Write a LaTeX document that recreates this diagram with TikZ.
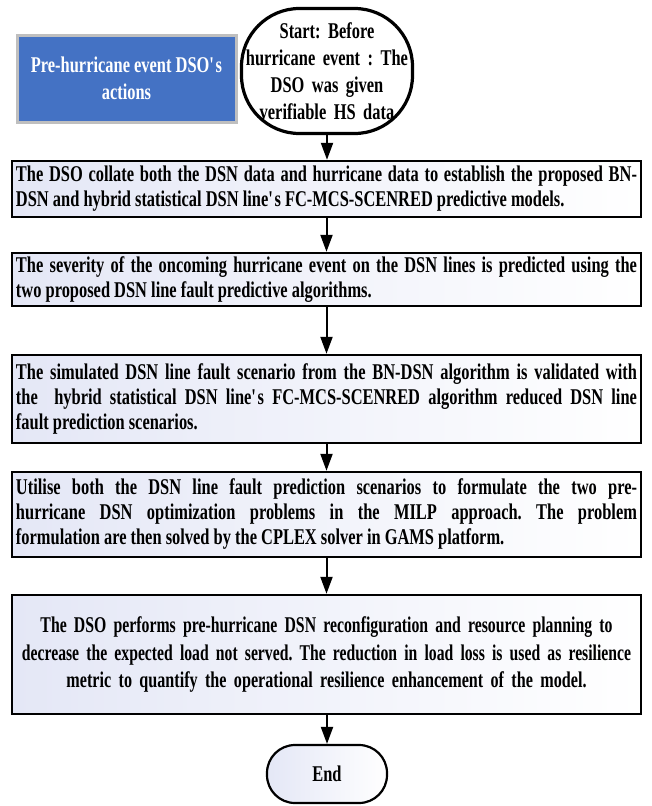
\documentclass[tikz,border=0pt]{standalone}
\usepackage{fontspec}
\setmainfont{Liberation Serif}[FakeStretch=0.73]
\usetikzlibrary{arrows.meta}
\frenchspacing

\definecolor{boxtint}{RGB}{228,231,246}
\definecolor{titleblue}{RGB}{68,114,196}
\definecolor{titleedge}{RGB}{191,191,191}

\newcommand{\apos}{\textquotesingle}
% a single line of text set to a given width
\newcommand{\fitline}[2]{\resizebox{#1}{\height}{#2}}

\tikzset{
  stepbox/.style={draw, line width=2.4pt, text width=621pt, inner xsep=4pt, inner ysep=3pt,
    align=justify, font=\fontsize{22.5}{25}\selectfont\bfseries,
    left color=boxtint, right color=white},
  terminal/.style={draw, align=center, font=\fontsize{22.5}{27}\selectfont\bfseries},
  flowarrow/.style={-{Triangle[length=17pt,width=12pt]}, line width=2pt},
}

\begin{document}
\begin{tikzpicture}[x=1pt,y=-1pt]
\useasboundingbox (0,0) rectangle (651,806);

% side title
\node[fill=titleblue, draw=titleedge, line width=3pt, minimum width=219pt, minimum height=87pt,
  text=white, align=center, font=\fontsize{22.5}{27}\selectfont\bfseries] (title) at (126.5,78.5)
  {Pre-hurricane event DSO\apos s\\actions};

% start and end terminals
\node[terminal, line width=3.2pt, rounded corners=58pt, minimum width=171pt, minimum height=125pt,
  text width=185pt, inner xsep=-7pt, fill=white] (start) at (327,71)
  {Start: Before\\hurricane event : The\\DSO was given\\verifiable HS data};

% process steps
\node[stepbox, minimum height=56pt] (s1) at (326.5,189)
  {The DSO collate both the DSN data and hurricane data to establish the proposed BN-\linebreak DSN and hybrid statistical DSN line\apos s FC-MCS-SCENRED predictive models.};

\node[stepbox, minimum height=53pt] (s2) at (326.5,279.5)
  {The severity of the oncoming hurricane event on the DSN lines is predicted using the\linebreak two proposed DSN line fault predictive algorithms.};

\node[stepbox, minimum height=88pt] (s3) at (326.5,399)
  {The simulated DSN line fault scenario from the BN-DSN algorithm is validated with\linebreak the \ hybrid statistical DSN line\apos s FC-MCS-SCENRED algorithm reduced DSN line\linebreak fault prediction scenarios.};

\node[stepbox, minimum height=85pt] (s4) at (326.5,514.5)
  {Utilise both the DSN line fault prediction scenarios to formulate the two pre-\linebreak hurricane DSN optimization problems in the MILP approach. The problem\linebreak formulation are then solved by the CPLEX solver in GAMS platform.};

\node[stepbox, minimum height=119pt, align=center, font=\fontsize{22.5}{27.5}\selectfont\bfseries] (s5) at (326.5,654.5)
  {\fitline{572pt}{The DSO performs pre-hurricane DSN reconfiguration and resource planning to}\\
   \fitline{609pt}{decrease the expected load not served. The reduction in load loss is used as resilience}\\
   \fitline{520pt}{metric to quantify the operational resilience enhancement of the model.}};

\node[terminal, line width=2.2pt, rounded corners=28pt, minimum width=120pt, minimum height=58pt,
  left color=boxtint, right color=white] (finish) at (327,774) {End};

% connectors
\draw[flowarrow] (start.south) -- (start.south |- s1.north);
\draw[flowarrow] (s1) -- (s2);
\draw[flowarrow] (s2) -- (s3);
\draw[flowarrow] (s3) -- (s4);
\draw[flowarrow] (s4) -- (s5);
\draw[flowarrow] (s5.south -| finish.north) -- (finish.north);
\end{tikzpicture}
\end{document}
